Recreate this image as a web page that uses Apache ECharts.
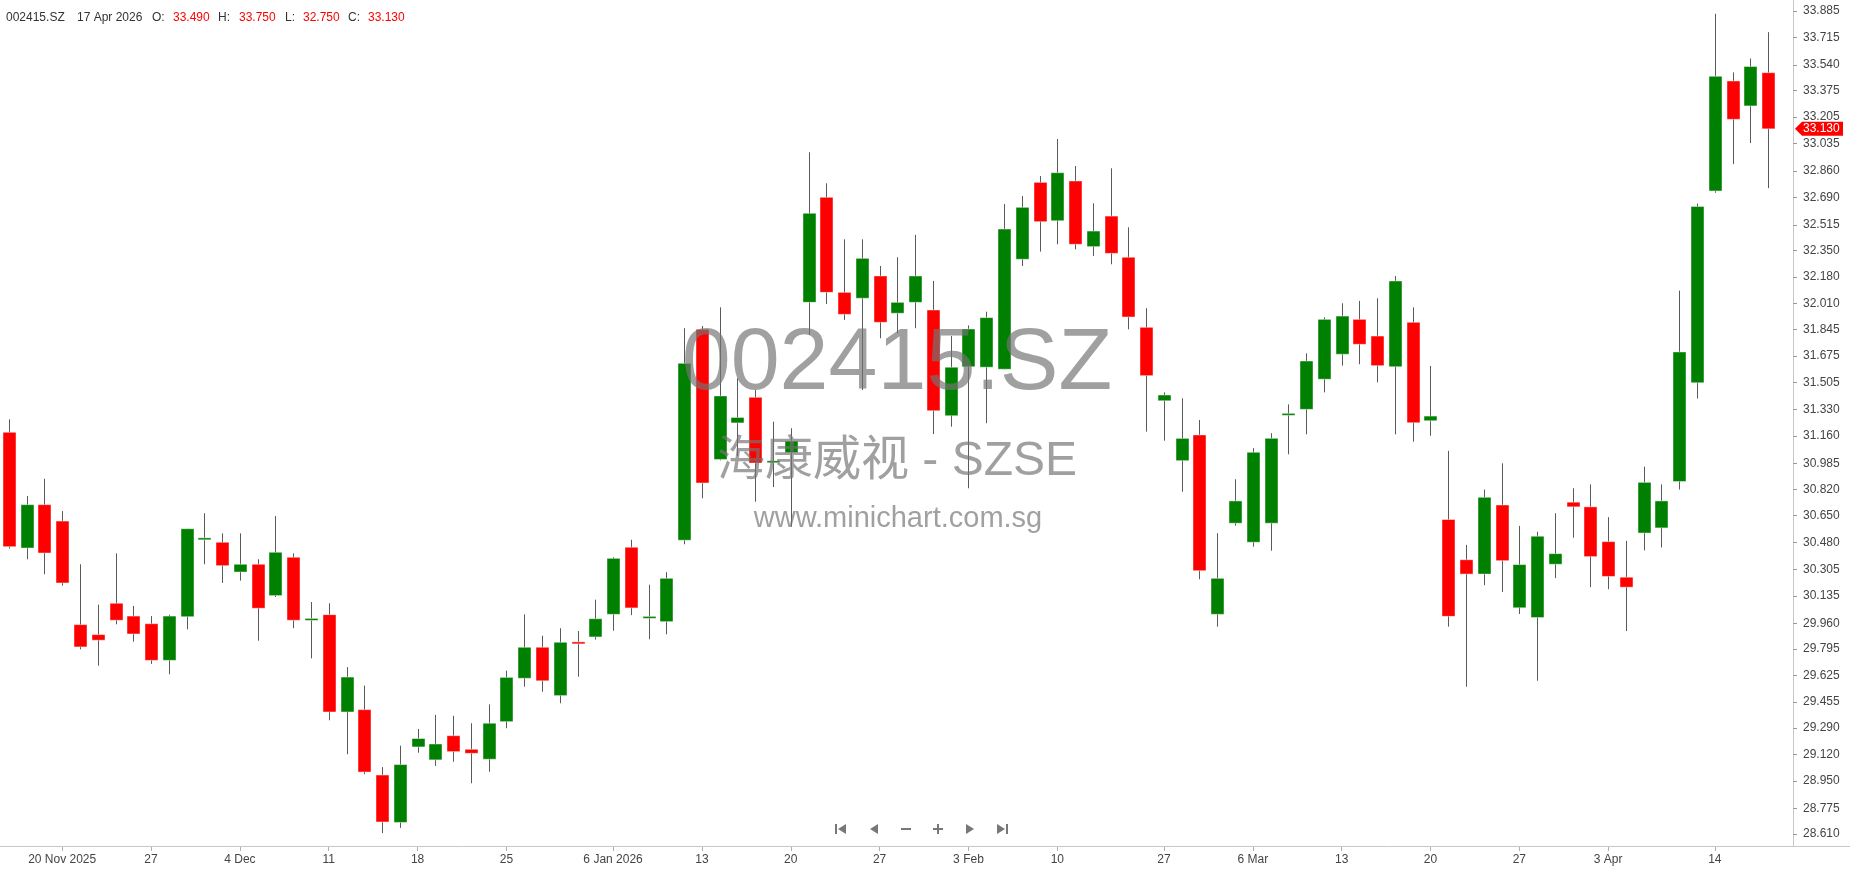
<!DOCTYPE html>
<html><head><meta charset="utf-8">
<script src="https://cdn.jsdelivr.net/npm/echarts@6/dist/echarts.min.js"></script>
<style>html,body{margin:0;padding:0;background:#fff}#c{width:1850px;height:874px}</style>
</head><body><div id="c"></div>
<script>
const symbolName = '002415.SZ';
const companyLine = '海康威视 - SZSE';
const siteLine = 'www.minichart.com.sg';

const dates = [
'2025-11-17','2025-11-18','2025-11-19','2025-11-20','2025-11-21','2025-11-24','2025-11-25','2025-11-26','2025-11-27','2025-11-28',
'2025-12-01','2025-12-02','2025-12-03','2025-12-04','2025-12-05','2025-12-08','2025-12-09','2025-12-10','2025-12-11','2025-12-12',
'2025-12-15','2025-12-16','2025-12-17','2025-12-18','2025-12-19','2025-12-22','2025-12-23','2025-12-24','2025-12-25','2025-12-26',
'2025-12-29','2025-12-30','2025-12-31','2026-01-05','2026-01-06','2026-01-07','2026-01-08','2026-01-09','2026-01-12','2026-01-13',
'2026-01-14','2026-01-15','2026-01-16','2026-01-19','2026-01-20','2026-01-21','2026-01-22','2026-01-23','2026-01-26','2026-01-27',
'2026-01-28','2026-01-29','2026-01-30','2026-02-02','2026-02-03','2026-02-04','2026-02-05','2026-02-06','2026-02-09','2026-02-10',
'2026-02-11','2026-02-12','2026-02-24','2026-02-25','2026-02-26','2026-02-27','2026-03-02','2026-03-03','2026-03-04','2026-03-05',
'2026-03-06','2026-03-09','2026-03-10','2026-03-11','2026-03-12','2026-03-13','2026-03-16','2026-03-17','2026-03-18','2026-03-19',
'2026-03-20','2026-03-23','2026-03-24','2026-03-25','2026-03-26','2026-03-27','2026-03-30','2026-03-31','2026-04-01','2026-04-02',
'2026-04-03','2026-04-07','2026-04-08','2026-04-09','2026-04-10','2026-04-13','2026-04-14','2026-04-15','2026-04-16','2026-04-17'
];

const openP = [
31.185,30.443,30.721,30.616,29.952,29.888,30.089,30.007,29.958,29.723,
30.003,30.499,30.480,30.289,30.339,30.138,30.384,29.983,30.016,29.392,
29.407,28.988,28.684,29.168,29.085,29.240,29.153,29.089,29.330,29.608,
29.807,29.497,29.839,29.873,30.018,30.448,29.996,29.971,30.493,31.845,
31.011,31.245,31.409,30.993,31.054,32.018,32.691,32.082,32.044,32.187,
31.948,32.018,31.969,31.291,31.605,31.602,31.589,32.294,32.787,32.541,
32.796,32.375,32.571,32.307,31.858,31.387,31.003,31.168,30.018,30.602,
30.480,30.602,31.296,31.332,31.525,31.685,31.909,31.802,31.605,31.890,
31.259,30.626,30.368,30.276,30.719,30.060,29.997,30.339,30.737,30.707,
30.484,30.256,30.539,30.572,30.869,31.502,32.732,33.437,33.277,33.490
];
const highP = [
31.268,30.777,30.887,30.680,30.339,30.080,30.409,30.072,30.007,30.016,
30.567,30.666,30.537,30.537,30.371,30.648,30.409,30.097,30.089,29.680,
29.561,29.039,29.176,29.283,29.373,29.368,29.320,29.441,29.657,30.018,
29.881,29.929,29.911,30.112,30.384,30.496,30.208,30.288,31.852,31.866,
31.986,31.531,31.456,31.253,31.211,32.980,32.781,32.422,32.422,32.251,
32.307,32.450,32.155,31.802,31.870,31.958,32.648,32.700,32.828,33.065,
32.892,32.653,32.877,32.499,31.980,31.441,31.403,31.264,30.538,30.884,
31.083,31.179,31.364,31.691,31.922,32.012,32.027,32.044,32.187,31.986,
31.610,31.066,30.463,30.818,30.986,30.585,30.547,30.666,30.826,30.851,
30.641,30.489,30.965,30.851,32.093,32.651,33.868,33.492,33.581,33.750
];
const lowP = [
30.440,30.371,30.275,30.202,29.794,29.689,29.954,29.843,29.700,29.634,
29.922,30.339,30.219,30.234,29.849,30.129,29.929,29.736,29.339,29.121,
28.993,28.616,28.649,29.131,29.046,29.073,28.935,29.009,29.288,29.554,
29.522,29.448,29.618,29.856,29.913,30.013,29.858,29.890,30.467,30.762,
31.005,31.033,30.740,30.834,30.580,31.809,32.007,31.905,31.456,31.788,
31.820,31.852,31.174,31.221,30.826,31.243,31.589,32.251,32.343,32.390,
32.358,32.315,32.262,31.845,31.189,31.131,30.804,30.243,29.939,30.586,
30.452,30.426,31.044,31.172,31.441,31.612,31.621,31.505,31.172,31.125,
31.163,29.939,29.554,30.205,30.161,30.020,29.592,30.250,30.509,30.192,
30.179,29.911,30.428,30.446,30.818,31.401,32.720,32.904,33.039,32.750
];
const closeP = [
30.452,30.721,30.411,30.219,29.809,29.852,29.980,29.892,29.723,30.007,
30.567,30.505,30.330,30.339,30.057,30.416,29.980,29.988,29.392,29.616,
29.007,28.687,29.055,29.222,29.187,29.138,29.127,29.320,29.614,29.807,
29.592,29.839,29.831,29.990,30.377,30.059,30.001,30.249,31.627,30.860,
31.418,31.280,30.988,30.999,31.129,32.589,32.082,31.941,32.300,31.890,
32.018,32.187,31.323,31.602,31.847,31.920,32.488,32.627,32.535,32.849,
32.390,32.475,32.332,31.924,31.548,31.424,31.146,30.298,30.249,30.745,
31.057,31.146,31.304,31.642,31.909,31.930,31.749,31.612,32.155,31.246,
31.289,30.005,30.276,30.768,30.362,30.337,30.519,30.407,30.707,30.388,
30.261,30.192,30.864,30.745,31.700,32.633,33.467,33.191,33.530,33.130
];

const yTickLabels = ['28.610','28.775','28.950','29.120','29.290','29.455','29.625','29.795','29.960','30.135',
'30.305','30.480','30.650','30.820','30.985','31.160','31.330','31.505','31.675','31.845','32.010','32.180',
'32.350','32.515','32.690','32.860','33.035','33.205','33.375','33.540','33.715','33.885'];
const xTickDates = ['2025-11-20','2025-11-27','2025-12-04','2025-12-11','2025-12-18','2025-12-25','2026-01-06',
'2026-01-13','2026-01-20','2026-01-27','2026-02-03','2026-02-10','2026-02-27','2026-03-06','2026-03-13',
'2026-03-20','2026-03-27','2026-04-03','2026-04-14'];
const xTickLabels = ['20 Nov 2025','27','4 Dec','11','18','25','6 Jan 2026','13','20','27','3 Feb','10','27',
'6 Mar','13','20','27','3 Apr','14'];

const UP = '#008000', DOWN = '#ff0000';
const FONT = '"Liberation Sans", Arial, sans-serif';
const yTickVals = yTickLabels.map(Number);
const data = dates.map((d, i) => [i, openP[i], closeP[i], lowP[i], highP[i]]);

function renderItem(params, api) {
  const i = api.value(0), o = api.value(1), c = api.value(2), l = api.value(3), h = api.value(4);
  const pO = api.coord([i, o]), pC = api.coord([i, c]), pL = api.coord([i, l]), pH = api.coord([i, h]);
  const w = Math.round(api.size([1, 0])[0] * 0.74);
  const x = Math.round(pO[0]) + 0.5;
  let top = Math.min(pO[1], pC[1]), bot = Math.max(pO[1], pC[1]);
  if (bot - top < 2) { const m = (top + bot) / 2; top = m - 1; bot = m + 1; }
  const col = c >= o ? UP : DOWN;
  return { type: 'group', children: [
    { type: 'line', shape: { x1: x, y1: pH[1], x2: x, y2: pL[1] }, style: { stroke: '#5a5a5a', lineWidth: 1 } },
    { type: 'rect', shape: { x: Math.round(x - w / 2), y: top, width: w, height: bot - top },
      style: { fill: col, stroke: 'rgba(255,255,255,0.45)', lineWidth: 1 } }
  ]};
}

const chart = echarts.init(document.getElementById('c'));
chart.setOption({
  animation: false,
  grid: { left: 0, right: 73, top: 0, bottom: 28 },
  xAxis: {
    type: 'category', data: dates, boundaryGap: true,
    axisLine: { show: false },
    axisTick: { show: true, alignWithLabel: true, length: 5, interval: (i, v) => xTickDates.includes(v), lineStyle: { color: '#b0b0b0' } },
    axisLabel: { interval: (i, v) => xTickDates.includes(v), formatter: v => xTickLabels[xTickDates.indexOf(v)] || '',
      color: '#444', fontSize: 12, fontFamily: FONT, margin: 8 },
    splitLine: { show: false }
  },
  yAxis: {
    type: 'value', position: 'right', min: 28.533, max: 33.956, offset: 16,
    axisLine: { show: true, lineStyle: { color: '#c8c8c8' } },
    axisTick: { show: true, length: 4, customValues: yTickVals, lineStyle: { color: '#999' } },
    axisLabel: { customValues: yTickVals, formatter: v => { const k = yTickVals.indexOf(v); return k >= 0 ? yTickLabels[k] : v.toFixed(3); },
      color: '#444', fontSize: 12, fontFamily: FONT, margin: 10 },
    splitLine: { show: false }
  },
  series: [{ type: 'custom', renderItem, data, encode: { x: 0, y: [1, 2, 3, 4] }, clip: true }]
});

// overlay elements
const last = dates.length - 1;
const months = ['Jan','Feb','Mar','Apr','May','Jun','Jul','Aug','Sep','Oct','Nov','Dec'];
const ld = dates[last].split('-');
const dateStr = (+ld[2]) + ' ' + months[+ld[1] - 1] + ' ' + ld[0];
const hdr = [[symbolName, 6, '#333'], [dateStr, 77, '#333'], ['O:', 152, '#333'], [openP[last].toFixed(3), 173, '#ff0000'],
  ['H:', 218, '#333'], [highP[last].toFixed(3), 239, '#ff0000'], ['L:', 285, '#333'], [lowP[last].toFixed(3), 303, '#ff0000'],
  ['C:', 348, '#333'], [closeP[last].toFixed(3), 368, '#ff0000']];
const g = [];
hdr.forEach(([t, x, c]) => g.push({ type: 'text', x, y: 18, z: 50, style: { text: t, fill: c, font: '12px ' + FONT, textVerticalAlign: 'middle' } }));

g.push({ type: 'line', z: 40, shape: { x1: 0, y1: 846.5, x2: 1850, y2: 846.5 }, style: { stroke: '#c8c8c8', lineWidth: 1 } });

const wm = 'rgba(115,115,115,0.68)';
g.push({ type: 'text', x: 897, y: 365, z: 60, style: { text: symbolName, fill: wm, font: '88px ' + FONT, textAlign: 'center', textVerticalAlign: 'middle' } });
g.push({ type: 'text', x: 897, y: 462, z: 60, style: { text: companyLine, fill: wm, font: '48px "Liberation Sans", "Noto Sans CJK SC", sans-serif', textAlign: 'center', textVerticalAlign: 'middle' } });
g.push({ type: 'text', x: 898, y: 519, z: 60, style: { text: siteLine, fill: wm, font: '29px ' + FONT, textAlign: 'center', textVerticalAlign: 'middle' } });

const nav = '#777', cy = 829;
const navX = [841, 874, 906, 938, 970, 1002];
let cx = navX[0];
g.push({ type: 'rect', z: 50, shape: { x: cx - 6, y: cy - 5, width: 2, height: 10 }, style: { fill: nav } });
g.push({ type: 'polygon', z: 50, shape: { points: [[cx + 5, cy - 5], [cx - 3, cy], [cx + 5, cy + 5]] }, style: { fill: nav } });
cx = navX[1];
g.push({ type: 'polygon', z: 50, shape: { points: [[cx + 4, cy - 5], [cx - 4, cy], [cx + 4, cy + 5]] }, style: { fill: nav } });
cx = navX[2];
g.push({ type: 'rect', z: 50, shape: { x: cx - 5, y: cy - 1, width: 10, height: 2 }, style: { fill: nav } });
cx = navX[3];
g.push({ type: 'rect', z: 50, shape: { x: cx - 5, y: cy - 1, width: 10, height: 2 }, style: { fill: nav } });
g.push({ type: 'rect', z: 50, shape: { x: cx - 1, y: cy - 5, width: 2, height: 10 }, style: { fill: nav } });
cx = navX[4];
g.push({ type: 'polygon', z: 50, shape: { points: [[cx - 4, cy - 5], [cx + 4, cy], [cx - 4, cy + 5]] }, style: { fill: nav } });
cx = navX[5];
g.push({ type: 'polygon', z: 50, shape: { points: [[cx - 5, cy - 5], [cx + 3, cy], [cx - 5, cy + 5]] }, style: { fill: nav } });
g.push({ type: 'rect', z: 50, shape: { x: cx + 4, y: cy - 5, width: 2, height: 10 }, style: { fill: nav } });

const py = chart.convertToPixel({ yAxisIndex: 0 }, closeP[last]);
g.push({ type: 'polygon', z: 70, shape: { points: [[1795, py], [1802, py - 7], [1843, py - 7], [1843, py + 7], [1802, py + 7]] }, style: { fill: '#ff0000' } });
g.push({ type: 'text', x: 1803, y: py, z: 71, style: { text: closeP[last].toFixed(3), fill: '#fff', font: '12px ' + FONT, textVerticalAlign: 'middle' } });

chart.setOption({ graphic: g });
</script>
</body></html>
